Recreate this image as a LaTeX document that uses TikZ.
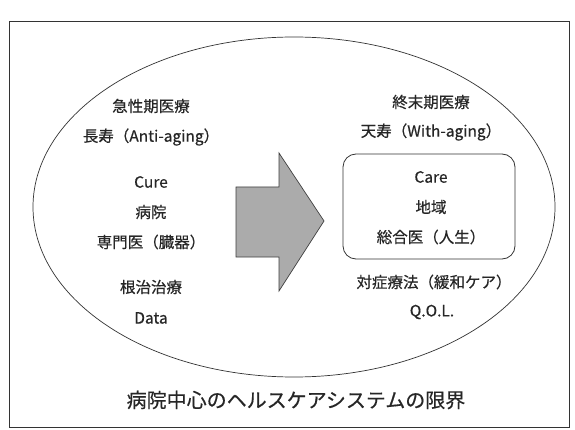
\documentclass[tikz,border=0pt]{standalone}
\usepackage{fontspec}
\setmainfont{Noto Sans CJK JP}[FakeBold=0.5]
\usetikzlibrary{shapes.geometric}
\tikzset{
  lbl/.style={font=\fontsize{15.5}{18}\selectfont, text=black!85, inner sep=0pt, anchor=center},
  captiontext/.style={font=\fontsize{20}{24}\selectfont, text=black!85, inner sep=0pt},
  frame/.style={draw=black!80, line width=0.8pt},
  oval/.style={ellipse, draw=black!80, line width=0.7pt, inner sep=0pt},
  carebox/.style={draw=black!80, line width=0.8pt, rounded corners=13pt},
  bigarrow/.style={fill=black!33, draw=black!75, line width=0.7pt, line join=miter}
}
\begin{document}
\begin{tikzpicture}[x=1pt,y=-1pt]
\useasboundingbox (0,0) rectangle (575,430);
\fill[white] (0,0) rectangle (575,430);
% outer frame
\draw[frame] (9,21) rectangle (569,427);
% big ellipse
\node[oval, minimum width=522pt, minimum height=340pt] (ov) at (294,207) {};
% rounded box
\draw[carebox] (343,154) rectangle (515,259);
% arrow
\coordinate (a1) at (236,187);
\coordinate (a2) at (279,187);
\coordinate (a3) at (279,153);
\coordinate (a4) at (324,221);
\coordinate (a5) at (279,291);
\coordinate (a6) at (279,257);
\coordinate (a7) at (236,257);
\draw[bigarrow] (a1) -- (a2) -- (a3) -- (a4) -- (a5) -- (a6) -- (a7) -- cycle;
% left column
\node[lbl] (l1) at (151,106) {急性期医療};
\node[lbl] (l2) at (151,137) {長寿（Anti-aging）};
\node[lbl] (l3) at (151,182) {Cure};
\node[lbl] (l4) at (151,212) {病院};
\node[lbl] (l5) at (151,242) {専門医（臓器）};
\node[lbl] (l6) at (151,287) {根治治療};
\node[lbl] (l7) at (151,318) {Data};
% right column
\node[lbl] (r1) at (431,102) {終末期医療};
\node[lbl] (r2) at (431,132) {天寿（With-aging）};
\node[lbl] (r3) at (431,177) {Care};
\node[lbl] (r4) at (431,207) {地域};
\node[lbl] (r5) at (431,237) {総合医（人生）};
\node[lbl] (r6) at (434,282) {対症療法（緩和ケア）};
\node[lbl] (r7) at (432,312) {Q.O.L.};
% caption
\node[captiontext] (cp) at (296,400) {病院中心のヘルスケアシステムの限界};
\end{tikzpicture}
\end{document}
